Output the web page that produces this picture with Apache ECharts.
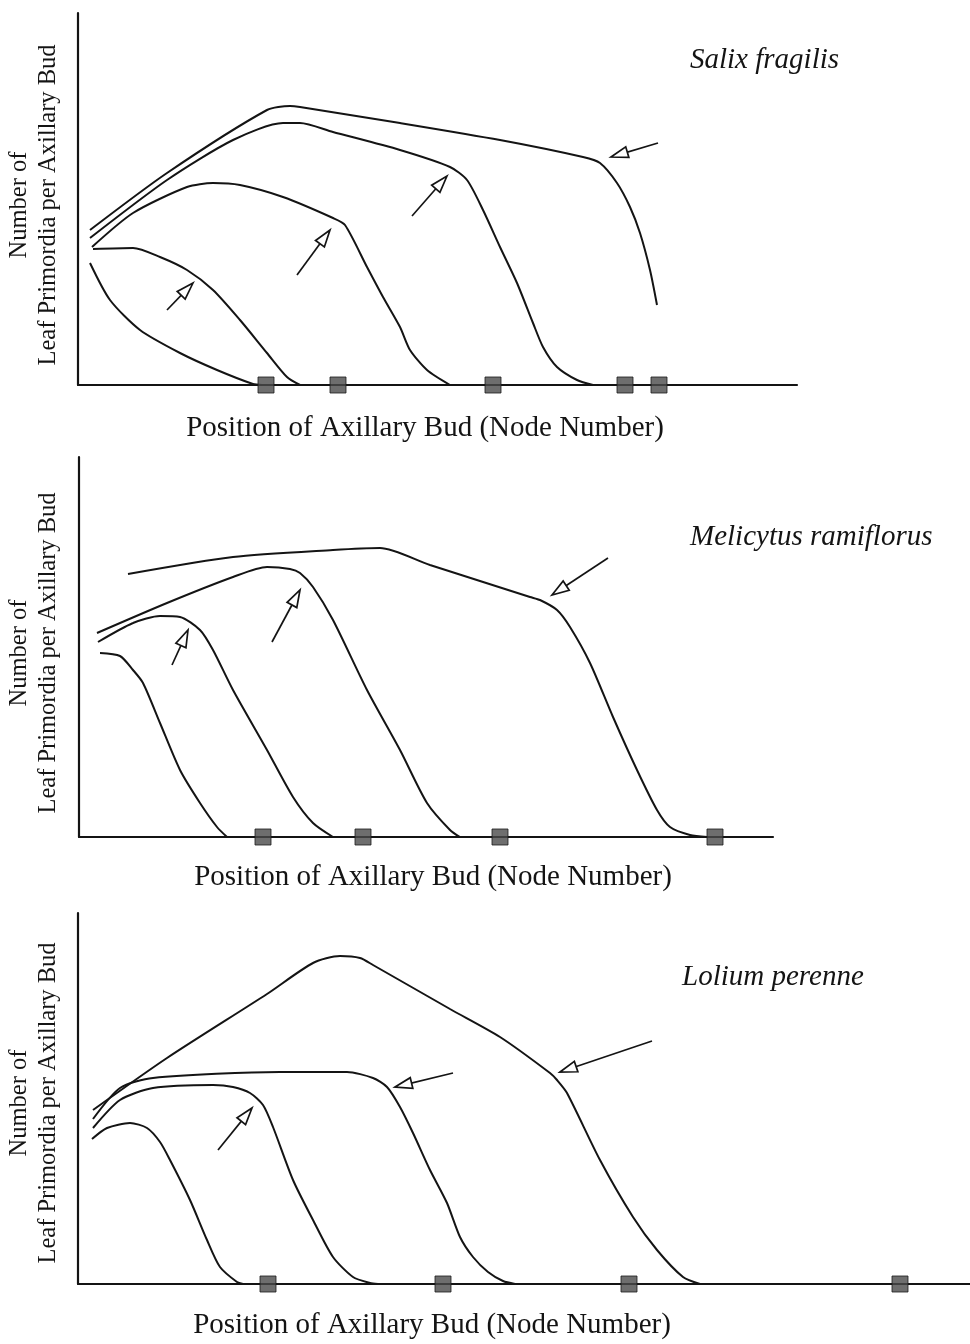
<!DOCTYPE html>
<html><head><meta charset="utf-8">
<script src="https://cdn.jsdelivr.net/npm/echarts@6/dist/echarts.min.js"></script>
<style>html,body{margin:0;padding:0;background:#fff}#c{width:970px;height:1344px}</style>
</head><body><div id="c"></div>
<script>
// ---------- DATA (x: node position, y: leaf primordia; arbitrary units) ----------
const salixCurve1 = [[1.2,12.2],[3.2,8.5],[6.2,5.5],[10.2,3.2],[13.9,1.5],[17.5,0.1],[18.4,0]];
const salixCurve2 = [[1.5,13.6],[5.5,13.7],[8.2,12.8],[10.9,11.5],[13.5,9.5],[16.2,6.5],[18.9,3.2],[20.9,0.8],[22.2,0]];
const salixCurve3 = [[1.4,13.8],[5.5,17.2],[10.9,19.8],[13.5,20.2],[16.2,20.0],[20.5,18.8],[25.5,16.7],[26.7,16.0],[28.9,11.8],[30.5,8.8],[32.2,5.8],[33.2,3.5],[34.9,1.5],[37.2,0]];
const salixCurve4 = [[1.2,14.7],[8.9,20.5],[15.5,24.5],[20.5,26.2],[22.2,26.2],[25.5,25.3],[32.2,23.5],[37.2,21.8],[38.9,20.5],[40.5,17.5],[42.2,13.8],[43.9,10.2],[45.5,6.2],[46.5,3.8],[47.9,1.8],[49.9,0.5],[51.5,0]];
const salixCurve5 = [[1.2,15.5],[8.9,21.2],[18.9,27.5],[21.2,27.9],[22.2,27.8],[32.2,26.2],[42.2,24.5],[50.5,22.8],[52.2,22.2],[53.9,20.2],[55.2,17.8],[56.2,15.2],[57.2,11.5],[57.9,8.0]];
const salixBuds = [18.8, 26.0, 41.5, 54.7, 58.1];
const salixArrows = [[8.9,7.5,11.5,10.2],[21.9,11.0,25.2,15.5],[33.4,16.9,36.9,20.9],[58.0,24.2,53.3,22.8]];

const melCurve1 = [[2.1,18.4],[4.1,18.1],[5.4,16.7],[6.4,15.4],[8.1,11.4],[10.1,6.7],[12.1,3.4],[13.8,1.0],[14.8,0]];
const melCurve2 = [[1.9,19.5],[5.4,21.4],[8.1,22.1],[10.1,22.0],[12.1,20.7],[13.4,18.7],[15.4,14.7],[18.8,8.7],[21.4,4.0],[23.4,1.4],[25.4,0]];
const melCurve3 = [[1.8,20.4],[8.8,23.4],[15.4,26.0],[18.8,27.0],[21.1,26.8],[22.1,26.4],[23.4,25.0],[25.4,21.7],[28.8,14.7],[32.1,8.7],[34.8,3.4],[37.1,0.7],[38.1,0]];
const melCurve4 = [[4.9,26.3],[15.4,28.0],[25.4,28.7],[30.1,28.9],[35.1,27.2],[45.1,24.0],[46.1,23.7],[47.8,22.7],[49.1,21.0],[51.1,17.4],[53.4,12.0],[55.8,6.7],[57.8,2.7],[59.1,1.0],[61.1,0.2],[62.8,0]];
const melBuds = [18.4, 28.4, 42.1, 63.6];
const melArrows = [[9.3,17.2,10.9,20.7],[19.3,19.5,22.1,24.7],[52.9,27.9,47.3,24.2]];

const lolCurve1 = [[1.4,14.5],[2.9,15.6],[5.2,16.1],[6.9,15.6],[8.2,14.2],[9.2,12.4],[11.2,8.4],[12.9,4.4],[14.2,1.7],[15.9,0.2],[16.5,0]];
const lolCurve2 = [[1.5,15.6],[4.2,18.4],[7.5,19.6],[13.5,19.9],[15.5,19.7],[17.2,19.1],[18.5,17.9],[19.5,15.7],[21.5,10.4],[23.5,6.4],[25.5,2.7],[27.5,0.7],[29.2,0.1],[30.0,0]];
const lolCurve3 = [[1.5,16.5],[4.2,19.6],[7.5,20.6],[20.2,21.2],[26.9,21.2],[29.5,20.6],[30.9,19.7],[32.2,17.7],[33.5,15.1],[35.2,11.4],[36.9,8.1],[38.2,4.7],[39.5,2.7],[41.0,1.2],[42.5,0.3],[43.7,0]];
const lolCurve4 = [[1.5,17.4],[8.9,22.6],[18.9,29.0],[23.5,32.1],[26.2,32.8],[28.2,32.6],[29.5,31.9],[37.2,27.5],[42.2,24.7],[47.2,21.1],[47.9,20.4],[48.9,19.1],[52.2,12.4],[55.5,6.7],[57.9,3.4],[60.5,0.7],[62.2,0]];
const lolBuds = [19.0, 36.5, 55.1, 82.2];
const lolArrows = [[14.0,13.4,17.4,17.6],[37.5,21.1,31.7,19.7],[57.4,24.3,48.2,21.2]];

const speciesNames = ['Salix fragilis', 'Melicytus ramiflorus', 'Lolium perenne'];
const xTitle = 'Position of Axillary Bud (Node Number)';
const yTitle1 = 'Number of';
const yTitle2 = 'Leaf Primordia per Axillary Bud';

// ---------- LAYOUT ----------
const panels = [
  {grid:{left:78, top:13, width:719, height:372}, xmax:71.9, ymax:37.2, curves:[salixCurve1,salixCurve2,salixCurve3,salixCurve4,salixCurve5], buds:salixBuds, arrows:salixArrows,
   name:{x:690,y:60}, xt:{x:425,y:428}, yt:{y:205}},
  {grid:{left:79, top:457, width:694, height:380}, xmax:69.4, ymax:38.0, curves:[melCurve1,melCurve2,melCurve3,melCurve4], buds:melBuds, arrows:melArrows,
   name:{x:690,y:537}, xt:{x:433,y:877}, yt:{y:653}},
  {grid:{left:78, top:913, width:892, height:371}, xmax:89.2, ymax:37.1, curves:[lolCurve1,lolCurve2,lolCurve3,lolCurve4], buds:lolBuds, arrows:lolArrows,
   name:{x:682,y:977}, xt:{x:432,y:1325}, yt:{y:1103}}
];

const INK = '#141414';
const FONT = '"Liberation Serif", "Times New Roman", serif';

function renderArrow(params, api) {
  const s = api.coord([api.value(0), api.value(1)]);
  const t = api.coord([api.value(2), api.value(3)]);
  const dx = t[0]-s[0], dy = t[1]-s[1];
  const len = Math.hypot(dx, dy);
  const ux = dx/len, uy = dy/len;
  const hl = 17, hw = 5.5;
  const b = [t[0]-ux*hl, t[1]-uy*hl];
  const l = [b[0]-uy*hw, b[1]+ux*hw];
  const r = [b[0]+uy*hw, b[1]-ux*hw];
  return {type:'group', children:[
    {type:'line', shape:{x1:s[0], y1:s[1], x2:t[0]-ux*4, y2:t[1]-uy*4}, style:{stroke:INK, lineWidth:1.7}},
    {type:'polygon', shape:{points:[t, l, r]}, style:{fill:'#fff', stroke:INK, lineWidth:1.7}}
  ]};
}

const grids = [], xAxes = [], yAxes = [], series = [], graphics = [];
panels.forEach((p, i) => {
  grids.push(Object.assign({containLabel:false}, p.grid));
  const axisCommon = {type:'value', axisTick:{show:false}, axisLabel:{show:false}, splitLine:{show:false},
    axisLine:{show:true, onZero:false, lineStyle:{color:INK, width:2.2}}};
  xAxes.push(Object.assign({gridIndex:i, min:0, max:p.xmax}, axisCommon));
  yAxes.push(Object.assign({gridIndex:i, min:0, max:p.ymax}, axisCommon));
  p.curves.forEach(c => series.push({
    type:'line', xAxisIndex:i, yAxisIndex:i, data:c, showSymbol:false, smooth:0.25,
    lineStyle:{color:INK, width:2}, silent:true, z:3
  }));
  series.push({
    type:'scatter', xAxisIndex:i, yAxisIndex:i, data:p.buds.map(x => [x, 0]), symbol:'rect', symbolSize:16,
    itemStyle:{color:'#4a4a4a', borderColor:'#1a1a1a', borderWidth:1}, z:5, silent:true
  });
  series.push({
    type:'custom', xAxisIndex:i, yAxisIndex:i, data:p.arrows, renderItem:renderArrow,
    encode:{x:[0,2], y:[1,3]}, z:4, silent:true
  });
  graphics.push({type:'text', x:p.name.x, y:p.name.y, style:{text:speciesNames[i], font:'italic 29px ' + FONT, fill:INK, align:'left', verticalAlign:'middle'}});
  graphics.push({type:'text', x:p.xt.x, y:p.xt.y, style:{text:xTitle, font:'29px ' + FONT, fill:INK, align:'center', verticalAlign:'middle'}});
  graphics.push({type:'text', x:20, y:p.yt.y, rotation:Math.PI/2, style:{text:yTitle1, font:'24.5px ' + FONT, fill:INK, align:'center', verticalAlign:'middle'}});
  graphics.push({type:'text', x:49, y:p.yt.y, rotation:Math.PI/2, style:{text:yTitle2, font:'24.5px ' + FONT, fill:INK, align:'center', verticalAlign:'middle'}});
});

const chart = echarts.init(document.getElementById('c'), null, {renderer:'canvas'});
chart.setOption({
  backgroundColor:'#fff', animation:false,
  grid:grids, xAxis:xAxes, yAxis:yAxes, series:series, graphic:graphics
});
</script></body></html>
